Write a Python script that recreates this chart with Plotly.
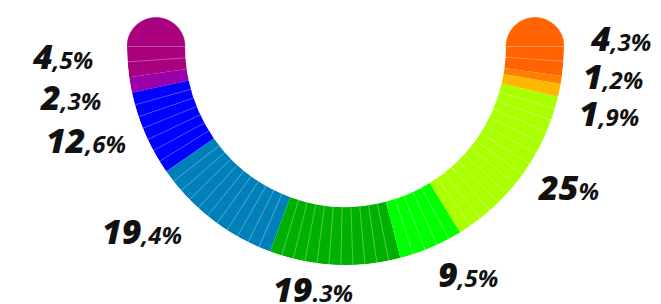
import math
import plotly.graph_objects as go

# ---- data ----
shares = [4.5, 2.3, 12.6, 19.4, 19.3, 9.5, 25.0, 1.9, 1.2, 4.3]
labels = ["4,5%", "2,3%", "12,6%", "19,4%", "19.3%", "9,5%", "25%", "1,9%", "1,2%", "4,3%"]
slices = [2, 1, 7, 11, 11, 5, 14, 1, 1, 2]
colors = ["#A8007E", "#9A00AA", "#0000FF", "#0080B8", "#00B000",
          "#00FF00", "#AAFF00", "#FFB800", "#FF8000", "#FF6400"]

# ---- geometry / style ----
W, H = 661, 304
OFF = 8                        # page body margin: figure is drawn 8px right/down
R_OUT_PX = 218.5
CX_PX, CY_PX = 345.5, 46.5     # donut centre in window pixels
R_IN = 160.5 / R_OUT_PX        # inner radius as fraction of outer radius
START, SPAN = 180.0, 180.0     # half donut, west -> south -> east
EXTRA = 10.0                   # extra sector room so the rounded caps are not clipped

total = sum(shares)
widths = [s / total * SPAN for s in shares]
starts = []
acc = START
for w in widths:
    starts.append(acc)
    acc += w
mids = [s + w / 2 for s, w in zip(starts, widths)]

fig = go.Figure()

# party arcs
fig.add_trace(go.Barpolar(
    theta=mids, width=widths, base=[R_IN] * len(shares), r=[1 - R_IN] * len(shares),
    marker=dict(color=colors, line=dict(width=0)),
    hoverinfo="skip", showlegend=False,
))

# thin separators between seats inside each party
sep_r, sep_t = [], []
for s, w, n in zip(starts, widths, slices):
    for k in range(1, n):
        a = s + w * k / n
        sep_r += [R_IN, 1, None]
        sep_t += [a, a, None]
for a in (START, START + SPAN):
    sep_r += [R_IN, 1, None]
    sep_t += [a, a, None]
fig.add_trace(go.Scatterpolar(
    r=sep_r, theta=sep_t, mode="lines",
    line=dict(color="rgba(255,255,255,0.4)", width=0.8),
    hoverinfo="skip", showlegend=False,
))

# rounded caps at both ends (semicircles above the half disc)
rm = (1 + R_IN) / 2
rc = (1 - R_IN) / 2
for col, side in ((colors[0], -1), (colors[-1], 1)):
    cr, ct = [], []
    cx = side * rm
    for i in range(73):
        phi = math.pi * i / 72
        x = cx + rc * math.cos(phi)
        y = rc * math.sin(phi)
        cr.append(math.hypot(x, y))
        ct.append(math.degrees(math.atan2(y, x)) % 360)
    fig.add_trace(go.Scatterpolar(
        r=cr, theta=ct, mode="lines", fill="toself", fillcolor=col,
        line=dict(width=0.5, color=col),
        hoverinfo="skip", showlegend=False,
    ))

# percentage labels (centre positions in window pixels)
label_pos = [(63, 56), (70, 97), (86, 140), (142, 231), (313, 289),
             (468, 274), (568, 187), (609, 113), (613, 76), (620, 38)]
for lab, (px, py) in zip(labels, label_pos):
    cut = len(lab)
    for ch in (",", "."):
        if ch in lab:
            cut = min(cut, lab.index(ch))
    if cut == len(lab):
        cut = lab.index("%")
    big, small = lab[:cut], lab[cut:]
    txt = (f"<span style='font-size:34px;font-weight:800'>{big}</span>"
           f"<span style='font-size:24px;font-weight:700'>{small}</span>")
    fig.add_annotation(
        x=(px - OFF) / W, y=1 - (py - OFF) / H, xref="paper", yref="paper",
        text=txt, showarrow=False, xanchor="center", yanchor="middle",
        font=dict(family="Open Sans", size=24, color="#111111", weight=800, style="italic"),
    )

# polar domain: sector bbox spans x in [-1, 1], y in [-1, sin(EXTRA)]
top_ext = math.sin(math.radians(EXTRA))
x0 = CX_PX - R_OUT_PX - OFF
x1 = CX_PX + R_OUT_PX - OFF
y_top = CY_PX - top_ext * R_OUT_PX - OFF
y_bot = CY_PX + R_OUT_PX - OFF

fig.update_layout(
    width=W, height=H,
    margin=dict(l=0, r=0, t=0, b=0),
    paper_bgcolor="white", plot_bgcolor="white",
    polar=dict(
        domain=dict(x=[x0 / W, x1 / W], y=[1 - y_bot / H, 1 - y_top / H]),
        sector=[START - EXTRA, START + SPAN + EXTRA],
        bgcolor="rgba(0,0,0,0)",
        radialaxis=dict(visible=False, range=[0, 1]),
        angularaxis=dict(visible=False, direction="counterclockwise", rotation=0),
        barmode="overlay",
    ),
    showlegend=False,
)

fig.write_html("out.html")
